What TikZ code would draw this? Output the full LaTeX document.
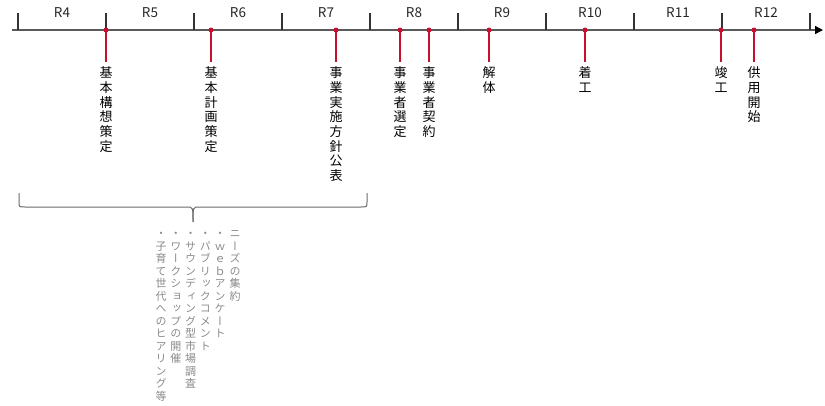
\documentclass[tikz,border=0pt]{standalone}
\usepackage{fontspec}
\setmainfont{Noto Sans CJK JP}
\newfontfamily\tatefont[RawFeature=+vert]{Noto Sans CJK JP}
\usetikzlibrary{arrows.meta}

\definecolor{axisgray}{HTML}{5A5A5A}
\definecolor{markred}{HTML}{C8102E}
\definecolor{notegray}{HTML}{8A8A8A}
\definecolor{bracegray}{HTML}{6A6A6A}

% vertical text: one character per cell
\newcommand\tate[1]{\vbox{\tatefont\lineskiplimit=-\maxdimen
  \edef\tatebuf{#1}\expandafter\tateloop\tatebuf\relax}}
\def\tateloop#1{\ifx#1\relax\else
  \hbox to 1em{\hss\vrule height .88em depth .12em width 0pt#1\hss}%
  \expandafter\tateloop\fi}

\begin{document}
\begin{tikzpicture}[x=1pt, y=-1pt,
    axis/.style={draw=axisgray, line width=1.4pt},
    tick/.style={draw=black!80, line width=1.2pt},
    year/.style={inner sep=0pt, text=black!85, font=\fontsize{13.5pt}{15pt}\selectfont},
    dot/.style={circle, fill=markred, inner sep=0pt, minimum size=5pt},
    stem/.style={draw=markred, line width=1.1pt},
    event/.style={anchor=north, inner sep=0pt, font=\fontsize{13pt}{14.7pt}\selectfont},
    note/.style={anchor=north, inner sep=0pt, text=notegray, font=\fontsize{11pt}{12.5pt}\selectfont},
    curly/.style={draw=bracegray, line width=1pt, line join=round}]
  \useasboundingbox (0,0) rectangle (825,405);

  % time axis
  \coordinate (axstart) at (12,30);
  \coordinate (axend) at (823,30);
  \draw[axis, -{Triangle[length=8pt, width=8pt, color=black]}] (axstart) -- (axend);
  \foreach \k in {0,...,9}
    \draw[tick] (18+88*\k,13) -- (18+88*\k,30);
  \foreach \n [count=\k from 0] in {4,...,12}
    \node[year] (r\n) at (62+88*\k,13) {R\n};

  % events
  \foreach \x/\txt [count=\i] in {106/基本構想策定, 211/基本計画策定, 336/事業実施方針公表,
      400/事業者選定, 429/事業者契約, 489/解体, 585/着工, 721/竣工, 754/供用開始} {
    \node[dot] (d\i) at (\x,30) {};
    \coordinate (s\i) at (\x,62);
    \draw[stem] (d\i.center) -- (s\i);
    \node[event] (e\i) at (\x,66) {\tate{\txt}};
  }

  % brace and notes
  \coordinate (bl) at (19,193);
  \coordinate (br) at (367,193);
  \coordinate (bt) at (193,222);
  \draw[curly] (bl) -- (19,202) .. controls (19,207) .. (25,207) -- (187,207)
    .. controls (193,207) .. (bt);
  \draw[curly] (br) -- (367,202) .. controls (367,207) .. (361,207) -- (199,207)
    .. controls (193,207) .. (bt);
  \foreach \txt [count=\i from 0] in {ニーズの集約, ・ｗｅｂアンケート, ・パブリックコメント,
      ・サウンディング型市場調査, ・ワークショップの開催, ・子育て世代へのヒアリング等}
    \node[note] (n\i) at (235-14.8*\i,228) {\tate{\txt}};
\end{tikzpicture}
\end{document}
